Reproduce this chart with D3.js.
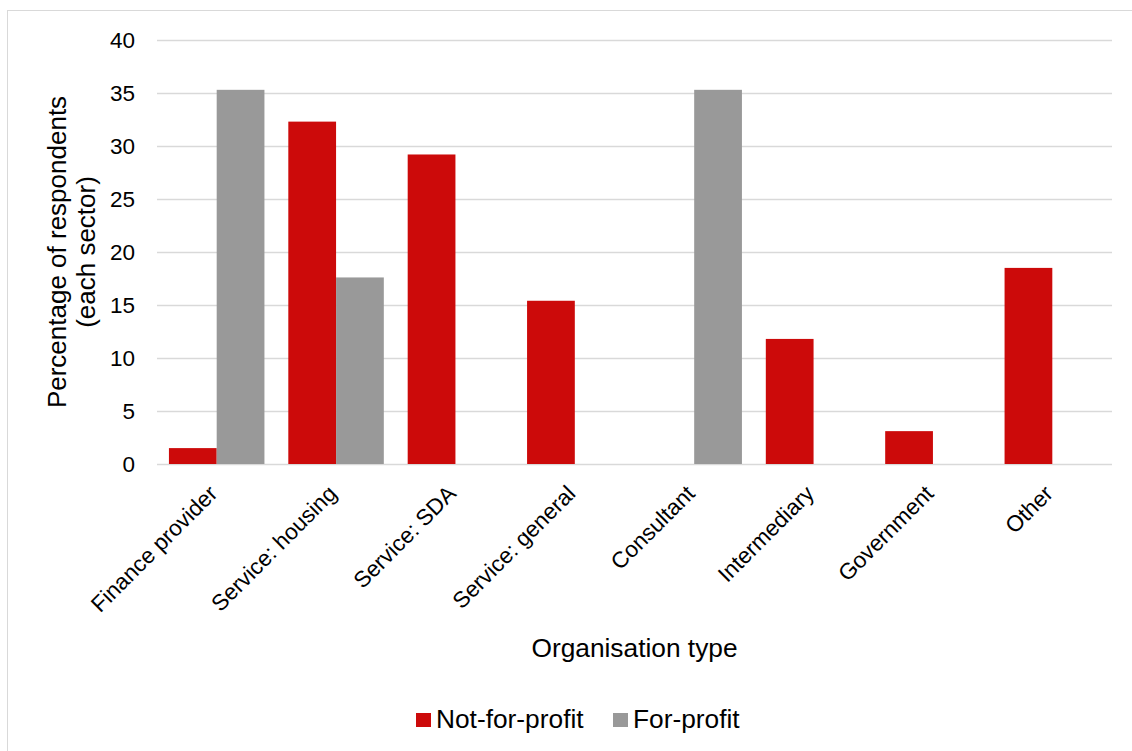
<!DOCTYPE html>
<html lang="en">
<head>
    <meta charset="UTF-8">
    <title>Organisation type by sector</title>
    <script src="https://d3js.org/d3.v7.min.js"></script>
    <style>
        body, html { margin: 0; padding: 0; overflow: hidden; background: #fff; }
        svg { display: block; font-family: "Liberation Sans", Arial, sans-serif; }
    </style>
</head>
<body>
    <script>
        // Chart data
        const categories = ["Finance provider", "Service: housing", "Service: SDA", "Service: general",
            "Consultant", "Intermediary", "Government", "Other"];
        const notForProfit = [1.5, 32.3, 29.2, 15.4, 0, 11.8, 3.1, 18.5];
        const forProfit = [35.3, 17.6, 0, 0, 35.3, 0, 0, 0];
        const seriesNames = ["Not-for-profit", "For-profit"];
        const yTicks = [0, 5, 10, 15, 20, 25, 30, 35, 40];

        const width = 1132;
        const height = 751;
        const margin = { top: 40, right: 20, bottom: 287, left: 157 };

        const colors = ["#CC0A0A", "#999999"];

        const svg = d3.select("body")
            .append("svg")
            .attr("width", width)
            .attr("height", height);

        // outer frame
        svg.append("rect")
            .attr("x", 7.5).attr("y", 10.5)
            .attr("width", width).attr("height", height)
            .attr("fill", "none")
            .attr("stroke", "#d9d9d9");

        const x = d3.scaleBand()
            .domain(categories)
            .range([margin.left, width - margin.right])
            .paddingInner(0.2)
            .paddingOuter(0.1);

        const xSub = d3.scaleBand()
            .domain(seriesNames)
            .range([0, x.bandwidth()]);

        const y = d3.scaleLinear()
            .domain([0, 40])
            .range([height - margin.bottom, margin.top]);

        // gridlines
        svg.append("g")
            .selectAll("line")
            .data(yTicks)
            .join("line")
            .attr("x1", margin.left)
            .attr("x2", width - margin.right)
            .attr("y1", d => Math.round(y(d)) + 0.5)
            .attr("y2", d => Math.round(y(d)) + 0.5)
            .attr("stroke", "#d9d9d9")
            .attr("stroke-width", 1.5);

        // y axis labels
        const yAxis = svg.append("g")
            .attr("transform", `translate(${margin.left - 22},0)`)
            .call(d3.axisLeft(y).tickValues(yTicks).tickSize(0).tickPadding(0));
        yAxis.select(".domain").remove();
        yAxis.selectAll("text")
            .attr("font-size", 22.5)
            .attr("font-family", "Liberation Sans, Arial, sans-serif")
            .attr("fill", "#000");

        // bars
        const rows = categories.map((c, i) => ({ cat: c, values: [notForProfit[i], forProfit[i]] }));
        svg.append("g")
            .selectAll("g")
            .data(rows)
            .join("g")
            .attr("transform", d => `translate(${x(d.cat)},0)`)
            .selectAll("rect")
            .data(d => d.values.map((v, j) => ({ name: seriesNames[j], value: v, j })))
            .join("rect")
            .attr("x", d => xSub(d.name))
            .attr("width", xSub.bandwidth())
            .attr("y", d => y(d.value))
            .attr("height", d => y(0) - y(d.value))
            .attr("fill", d => colors[d.j]);

        // x axis labels, rotated
        svg.append("g")
            .selectAll("text")
            .data(categories)
            .join("text")
            .attr("transform", d => `translate(${x(d) + x.bandwidth() / 2 + 2},${y(0) + 31}) rotate(-45)`)
            .attr("text-anchor", "end")
            .attr("font-size", 22.5)
            .attr("fill", "#000")
            .text(d => d);

        // axis titles
        svg.append("text")
            .attr("x", (margin.left + width - margin.right) / 2)
            .attr("y", 657)
            .attr("text-anchor", "middle")
            .attr("font-size", 26.3)
            .text("Organisation type");

        const yTitle = svg.append("text")
            .attr("transform", `translate(66,${(y(0) + y(40)) / 2}) rotate(-90)`)
            .attr("text-anchor", "middle")
            .attr("font-size", 26);
        yTitle.append("tspan").attr("x", 0).attr("dy", 0).text("Percentage of respondents");
        yTitle.append("tspan").attr("x", 0).attr("dy", 29).text("(each sector)");

        // legend
        const legendItems = [{ name: seriesNames[0], x: 416 }, { name: seriesNames[1], x: 613 }];
        const legend = svg.append("g")
            .selectAll("g")
            .data(legendItems)
            .join("g")
            .attr("transform", d => `translate(${d.x},713)`);
        legend.append("rect")
            .attr("width", 15).attr("height", 14)
            .attr("fill", (d, i) => colors[i]);
        legend.append("text")
            .attr("x", 20).attr("y", 15)
            .attr("font-size", 26.3)
            .text(d => d.name);
    </script>
</body>
</html>
